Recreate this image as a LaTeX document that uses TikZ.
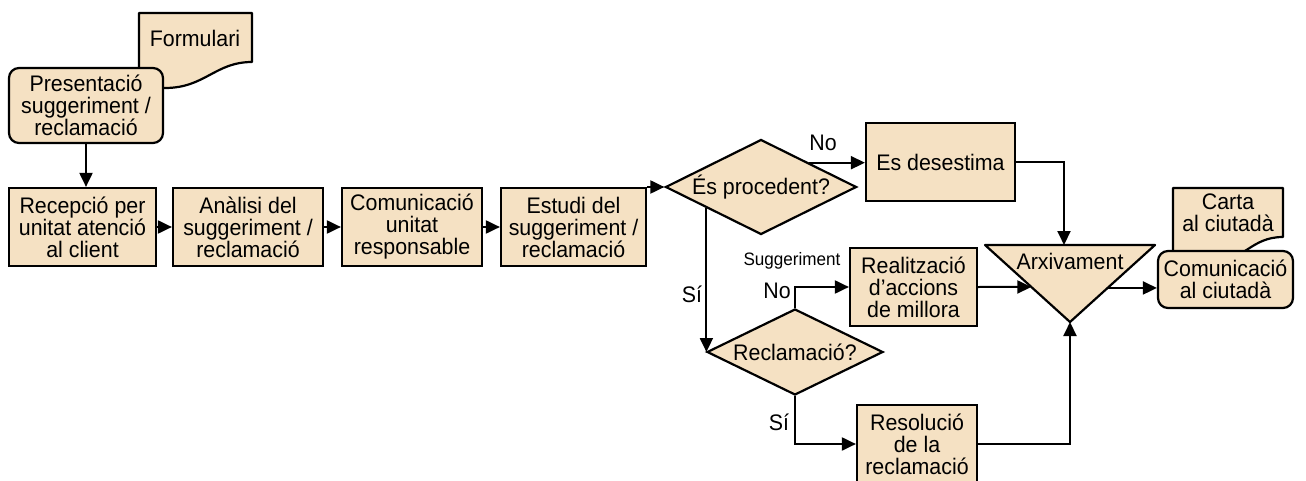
\documentclass[tikz,border=0pt]{standalone}
\usepackage{fontspec}
\setmainfont{Liberation Sans}[FakeStretch=0.95]
\usetikzlibrary{arrows.meta,shapes.geometric,calc}
\definecolor{boxfill}{HTML}{F5E1C3}

\begin{document}
\begin{tikzpicture}[x=1pt,y=-1pt,
	txtfont/.style={font=\fontsize{22.5}{22}\selectfont},
	stepbox/.style={draw=black,fill=boxfill,line width=2.2pt,inner sep=0pt,align=center,txtfont,minimum height=78pt},
	decbox/.style={draw=black,fill=boxfill,line width=2.2pt,inner sep=0pt,align=center,txtfont,diamond,aspect=2.2},
	termbox/.style={stepbox,rounded corners=10pt},
	docshape/.style={draw=black,fill=boxfill,line width=2.2pt,line join=round},
	arrline/.style={line width=2pt,-{Triangle[length=14pt,width=13pt]}},
	lbl/.style={txtfont,inner sep=0pt,align=center}]

	\useasboundingbox (0,0) rectangle (1306,481);

	% documents behind the rounded boxes
	\draw[docshape] (139,13) -- (252,13) -- (252,62) .. controls (215,62) and (205,88) .. (165,88) -- (139,88) -- cycle;
	\node[lbl] (formtxt) at (195,38) {Formulari};
	\draw[docshape] (1173,188) -- (1283,188) -- (1283,237) .. controls (1250,237) and (1245,262) .. (1210,262) -- (1173,262) -- cycle;
	\node[lbl] (cartatxt) at (1228,213) {Carta\\al ciutadà};

	\node[termbox,minimum width=154pt,minimum height=75pt] (pres) at (86,105.5) {Presentació\\suggeriment /\\reclamació};

	\foreach \x/\w/\nm/\txt in {82.5/147/recep/{Recepció per\\unitat atenció\\al client},
		248/150/anal/{Anàlisi del\\suggeriment /\\reclamació},
		412/140/comu/{Comunicació\\unitat\\responsable},
		573.5/145/estudi/{Estudi del\\suggeriment /\\reclamació}} {
		\node[stepbox,minimum width=\w pt] (\nm) at (\x,227) {\txt};
		}
	\foreach \a/\b in {recep/anal,anal/comu,comu/estudi}
		\draw[arrline] (\a) -- (\b);

	\node[decbox,minimum width=191pt,minimum height=95pt] (procd) at (761,187) {És procedent?};
	\node[decbox,minimum width=176pt,minimum height=86pt] (reclq) at (795,352) {Reclamació?};
	\node[stepbox,minimum width=149pt] (desest) at (940.5,162) {Es desestima};
	\node[stepbox,minimum width=127pt] (realit) at (913.5,287) {Realització\\d’accions\\de millora};
	\node[stepbox,minimum width=120pt] (resol) at (917,444) {Resolució\\de la\\reclamació};
	\node[termbox,minimum width=135pt,minimum height=57pt] (comciu) at (1225.5,279.5) {Comunicació\\al ciutadà};

	% arxivament
	\coordinate (arxtl) at (985,245);
	\coordinate (arxtr) at (1155,245);
	\coordinate (arxbot) at (1070,322);
	\draw[docshape] (arxtl) -- (arxtr) -- (arxbot) -- cycle;
	\node[lbl] (arx) at (1070,261) {Arxivament};
	\coordinate (arxtop) at (1064,245);
	\coordinate (arxin) at ($(arxtl)!0.545!(arxbot)$);
	\coordinate (arxout) at ($(arxtr)!0.558!(arxbot)$);

	\node[lbl] (nolbla) at (823,143) {No};
	\node[lbl] (silbla) at (692,294) {Sí};
	\node[lbl,font=\fontsize{18}{18}\selectfont] (sugglbl) at (792,261) {Suggeriment};
	\node[lbl] (nolblb) at (777,291) {No};
	\node[lbl] (silblb) at (779,422) {Sí};

	\draw[arrline] (pres.south) -- (pres.south |- recep.north);
	\draw[arrline] (estudi.east |- procd.west) -- (procd.west);
	\draw[arrline] (procd.north east) -- (procd.north east -| desest.west);
	\coordinate (procsw) at ($(procd.west)!0.435!(procd.south)$);
	\draw[arrline] (procsw) -- (procsw |- reclq.west);
	\draw[arrline] (reclq.north) |- (realit.west);
	\draw[arrline] (reclq.south) |- (resol.west);
	\draw[arrline] (desest.east) -| (arxtop);
	\draw[arrline] (realit.east) -- (arxin);
	\draw[arrline] (resol.east) -| (arxbot);
	\draw[arrline] (arxout) -- (arxout -| comciu.west);
\end{tikzpicture}
\end{document}
